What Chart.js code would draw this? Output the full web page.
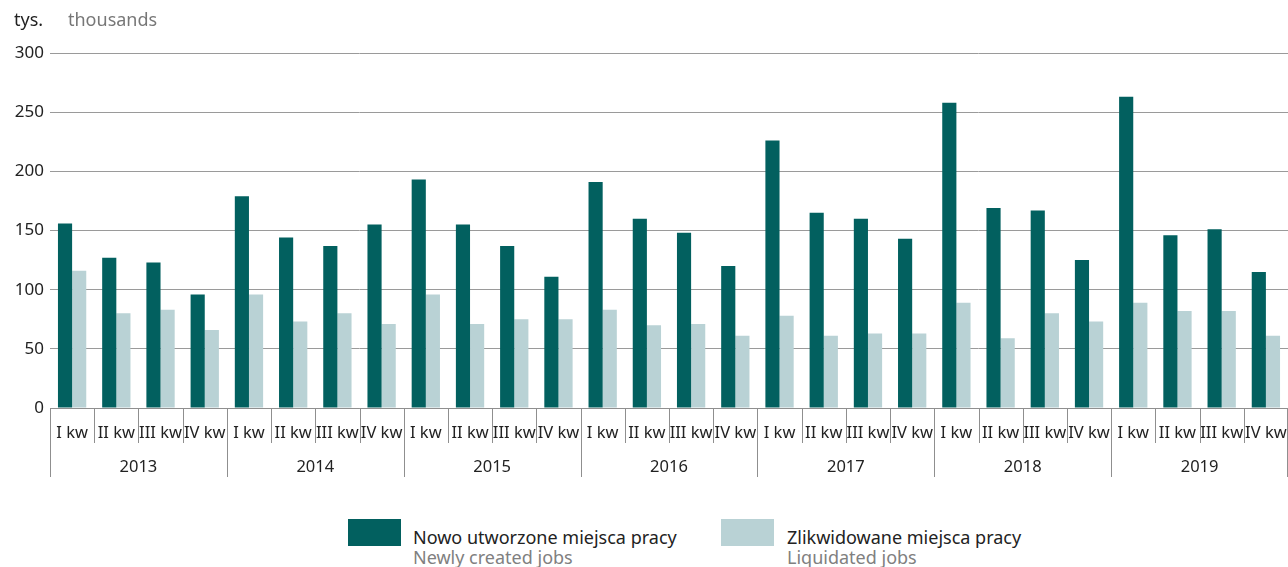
<!DOCTYPE html>
<html>
<head>
<meta charset="utf-8">
<script src="https://cdn.jsdelivr.net/npm/chart.js@4/dist/chart.umd.min.js"></script>
<style>
  html, body { margin: 0; padding: 0; background: #fff; }
  body { width: 1288px; height: 567px; position: relative; overflow: hidden; font-family: "Noto Sans", sans-serif; }
  #wrap { position: absolute; left: 0; top: 0; width: 1288px; height: 500px; }
  .t { position: absolute; white-space: nowrap; font-size: 18px; line-height: 20px; }
  .sq { position: absolute; width: 53px; height: 27px; }
</style>
</head>
<body>
<div id="wrap"><canvas id="c"></canvas></div>
<div class="t" style="left:14px;top:9px;color:#222;">tys.</div>
<div class="t" style="left:68px;top:9px;color:#777;">thousands</div>

<div class="sq" style="left:348px;top:519px;background:#02605f;"></div>
<div class="t" style="left:413px;top:527px;color:#222;">Nowo utworzone miejsca pracy</div>
<div class="t" style="left:413px;top:547px;color:#808080;">Newly created jobs</div>
<div class="sq" style="left:721px;top:519px;background:#b9d2d5;"></div>
<div class="t" style="left:787px;top:527px;color:#222;">Zlikwidowane miejsca pracy</div>
<div class="t" style="left:787px;top:547px;color:#808080;">Liquidated jobs</div>

<script>
const years = ["2013", "2014", "2015", "2016", "2017", "2018", "2019"];
const quarters = ["I kw", "II kw", "III kw", "IV kw"];
const categories = years.flatMap(y => quarters.map(q => q));
const newJobs = [
  156, 127, 123, 96,
  179, 144, 137, 155,
  193, 155, 137, 111,
  191, 160, 148, 120,
  226, 165, 160, 143,
  258, 169, 167, 125,
  263, 146, 151, 115
];
const liquidatedJobs = [
  116, 80, 83, 66,
  96, 73, 80, 71,
  96, 71, 75, 75,
  83, 70, 71, 61,
  78, 61, 63, 63,
  89, 59, 80, 73,
  89, 82, 82, 61
];
const yTicks = [0, 50, 100, 150, 200, 250, 300];

const FONT = '"Noto Sans", sans-serif';

const groupPlugin = {
  id: 'groups',
  afterDraw(chart) {
    const ctx = chart.ctx;
    const x = chart.scales.x;
    const bottom = chart.chartArea.bottom;
    const n = categories.length;
    const half = (x.getPixelForTick(1) - x.getPixelForTick(0)) / 2;
    ctx.save();
    ctx.strokeStyle = '#8f8f8f';
    ctx.lineWidth = 1;
    for (let i = 0; i <= n; i++) {
      const px = i < n ? x.getPixelForTick(i) - half : x.getPixelForTick(n - 1) + half;
      const isYear = i % 4 === 0;
      const xx = Math.min(Math.round(px) + 0.5, chart.width - 0.5);
      ctx.beginPath();
      ctx.moveTo(xx, bottom);
      ctx.lineTo(xx, isYear ? bottom + 69 : bottom + 35);
      ctx.stroke();
    }
    ctx.fillStyle = '#222';
    ctx.font = '16.5px ' + FONT;
    ctx.textAlign = 'center';
    ctx.textBaseline = 'middle';
    years.forEach((y, k) => {
      const a = x.getPixelForTick(k * 4) - half;
      const b = x.getPixelForTick(k * 4 + 3) + half;
      ctx.fillText(y, (a + b) / 2, bottom + 59);
    });
    ctx.restore();
  }
};

new Chart(document.getElementById('c'), {
  type: 'bar',
  data: {
    labels: categories,
    datasets: [
      { label: 'Nowo utworzone miejsca pracy', data: newJobs, backgroundColor: '#02605f', borderWidth: 0 },
      { label: 'Zlikwidowane miejsca pracy', data: liquidatedJobs, backgroundColor: '#b9d2d5', borderWidth: 0 }
    ]
  },
  options: {
    responsive: true,
    maintainAspectRatio: false,
    animation: false,
    layout: { padding: { top: 53, right: 0, left: 0, bottom: 0 } },
    plugins: { legend: { display: false }, tooltip: { enabled: false } },
    datasets: { bar: { categoryPercentage: 0.64, barPercentage: 1.0 } },
    scales: {
      x: {
        grid: { display: false },
        border: { display: true, color: '#8f8f8f', width: 1 },
        ticks: { color: '#222', font: { size: 16.5, family: FONT }, padding: 7, maxRotation: 0, autoSkip: false },
        afterFit(s) { s.height = 92; s.paddingLeft = 0; s.paddingRight = 0; }
      },
      y: {
        min: 0, max: 300,
        afterBuildTicks(s) { s.ticks = yTicks.map(v => ({ value: v })); },
        grid: { color: '#9a9a9a', lineWidth: 1, drawTicks: false },
        border: { display: false },
        ticks: { color: '#222', font: { size: 17, family: FONT }, padding: 6 },
        afterFit(s) { s.width = 50; s.paddingTop = 0; s.paddingBottom = 0; }
      }
    }
  },
  plugins: [groupPlugin]
});
</script>
</body>
</html>
